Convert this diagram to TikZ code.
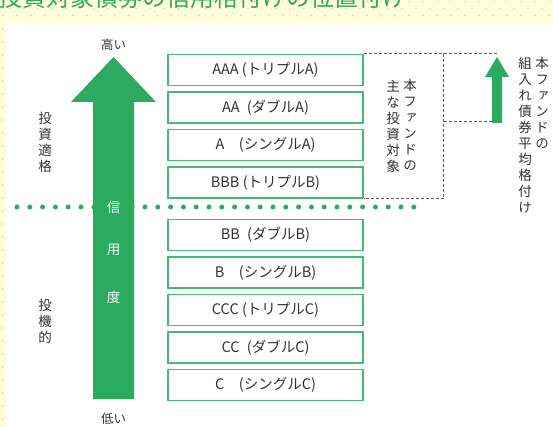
\documentclass[tikz,border=0pt]{standalone}
\usepackage{fontspec}
\setmainfont{Noto Sans CJK JP}
\newfontfamily\tatefont[RawFeature=+vert]{Noto Sans CJK JP}
\usetikzlibrary{positioning,calc}

\definecolor{creditgreen}{RGB}{44,170,96}
\definecolor{boxgreen}{RGB}{70,185,115}
\definecolor{paleyellow}{RGB}{255,255,218}
\definecolor{dotpink}{RGB}{250,185,195}
\definecolor{lineGray}{RGB}{95,95,95}
\definecolor{inkGray}{RGB}{50,50,50}

\tikzset{
  rank/.style={draw=boxgreen, line width=1.6pt, minimum width=195pt, minimum height=31pt,
    inner sep=0pt, font=\fontsize{14.5}{14.5}\selectfont, text=inkGray},
  tate/.style={align=center, inner sep=0pt, font=\tatefont\fontsize{13.5}{16}\selectfont, text=inkGray},
  fundline/.style={draw=lineGray, line width=0.8pt, dash pattern=on 3pt off 2pt},
}

\begin{document}
\begin{tikzpicture}[x=1pt,y=-1pt]
		\useasboundingbox (0,0) rectangle (553,427);
		% background and frame
		\fill[paleyellow] (0,0) rectangle (553,427);
		\foreach \y in {1.5,15.5}
			\foreach \x in {3,17,...,553} \fill[dotpink] (\x,\y) circle (0.9pt);
		\foreach \x in {10,24,...,553} \fill[dotpink] (\x,8.5) circle (0.9pt);
		\foreach \y in {29,42,...,427} \fill[dotpink] (2.5,\y) circle (0.9pt);
		\begin{scope}
			\clip (0,0) rectangle (553,11);
			\node[anchor=base west, inner sep=0pt, text=creditgreen, font=\fontsize{24}{24}\selectfont] (title) at (-2,7) {投資対象債券の信用格付けの位置付け};
		\end{scope}
		\fill[white] (6,23) rectangle (553,427);
		% dotted border between grades
		\foreach \x in {17,29.8,...,416} \fill[creditgreen] (\x,207) circle (2.5pt);
		% big arrow
		\fill[creditgreen] (93,399) -- (93,102) -- (71,102) -- (113.5,57) -- (156,102) -- (134,102) -- (134,399) -- cycle;
		\node[text=white, font=\fontsize{13.5}{13.5}\selectfont] (shin) at (113.5,207) {信};
		\node[text=white, font=\fontsize{13.5}{13.5}\selectfont] (you) at (113.5,250) {用};
		\node[text=white, font=\fontsize{13.5}{13.5}\selectfont] (do) at (113.5,297) {度};
		\node[text=inkGray, font=\fontsize{12.5}{12.5}\selectfont] (high) at (113.5,45) {高い};
		\node[text=inkGray, font=\fontsize{12.5}{12.5}\selectfont] (low) at (113.5,419) {低い};
		\node[tate] (grade) at (45,142) {投\\資\\適\\格};
		\node[tate] (spec) at (45,321) {投\\機\\的};
		% rating boxes
		\node[rank] (aaa) at (265.5,70) {AAA (トリプルA)};
		\node[rank, below=4.9pt of aaa] (aa) {AA\enspace(ダブルA)};
		\node[rank, below=4.9pt of aa] (a) {A\quad(シングルA)};
		\node[rank, below=4.9pt of a] (bbb) {BBB (トリプルB)};
		\node[rank] (bb) at (265.5,235) {BB\enspace(ダブルB)};
		\node[rank, below=4.9pt of bb] (b) {B\quad(シングルB)};
		\node[rank, below=4.9pt of b] (ccc) {CCC (トリプルC)};
		\node[rank, below=4.9pt of ccc] (cc) {CC\enspace(ダブルC)};
		\node[rank, below=4.9pt of cc] (c) {C\quad(シングルC)};
		% main investment target
		\draw[fundline] (aaa.north east) -- ++(80,0) coordinate (fundNE) |- (bbb.south east);
		\node[tate, anchor=north] (fund1) at (410,79) {本\\フ\\ァ\\ン\\ド\\の};
		\node[tate, anchor=north] (fund2) at (393,80) {主\\な\\投\\資\\対\\象};
		% average rating
		\draw[fundline] (fundNE) -- ++(54,0) coordinate (avgtop);
		\draw[fundline] ($(fundNE)+(0,68)$) -- ++(49,0) coordinate (avgfoot);
		\fill[creditgreen] (492,123) -- (492,77) -- (485,77) -- (497,57) -- (509,77) -- (502,77) -- (502,123) -- cycle;
		\node[tate, anchor=north] (avg1) at (542,57) {本\\フ\\ァ\\ン\\ド\\の};
		\node[tate, anchor=north] (avg2) at (525,57) {組\\入\\れ\\債\\券\\平\\均\\格\\付\\け};
	\end{tikzpicture}
\end{document}
